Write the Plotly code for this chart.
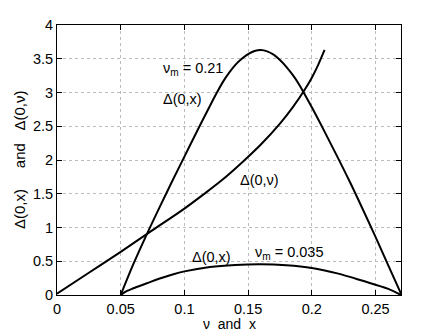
import plotly.graph_objects as go

# Delta(0, nu) curve
nu = [0.0, 0.025, 0.05, 0.075, 0.1, 0.115, 0.13, 0.145, 0.16, 0.175, 0.185, 0.195, 0.2, 0.205, 0.21]
delta_nu = [0.02, 0.33, 0.64, 0.96, 1.28, 1.49, 1.71, 1.96, 2.23, 2.54, 2.78, 3.06, 3.22, 3.41, 3.63]

# Delta(0, x) for nu_m = 0.21
x_hi = [0.05, 0.06, 0.07, 0.08, 0.09, 0.1, 0.11, 0.12, 0.125, 0.13, 0.135, 0.14, 0.145, 0.15, 0.155,
        0.16, 0.165, 0.17, 0.175, 0.18, 0.185, 0.19, 0.2, 0.21, 0.22, 0.23, 0.24, 0.25, 0.26, 0.27]
delta_x_hi = [0.0, 0.46, 0.88, 1.28, 1.67, 2.05, 2.43, 2.8, 2.98, 3.15, 3.29, 3.41, 3.5, 3.57, 3.615,
              3.63, 3.61, 3.56, 3.48, 3.38, 3.26, 3.12, 2.78, 2.42, 2.05, 1.67, 1.27, 0.86, 0.44, 0.02]

# Delta(0, x) for nu_m = 0.035
x_lo = [0.05, 0.055, 0.06, 0.07, 0.08, 0.09, 0.1, 0.12, 0.14, 0.16, 0.18, 0.2, 0.22, 0.24, 0.26, 0.27]
delta_x_lo = [0.0, 0.06, 0.1, 0.17, 0.24, 0.3, 0.35, 0.415, 0.445, 0.455, 0.44, 0.4, 0.32, 0.21, 0.09, 0.0]

x_ticks = [0, 0.05, 0.1, 0.15, 0.2, 0.25]
y_ticks = [0, 0.5, 1, 1.5, 2, 2.5, 3, 3.5, 4]

FONT = "Liberation Sans, Arial, Helvetica, sans-serif"

fig = go.Figure()
for xs, ys in [(nu, delta_nu), (x_hi, delta_x_hi), (x_lo, delta_x_lo)]:
    fig.add_trace(go.Scatter(
        x=xs, y=ys, mode="lines", line=dict(color="black", width=2, shape="spline", smoothing=1.0),
        showlegend=False, hoverinfo="skip",
    ))

labels = [
    (0.082, 3.35, "ν<sub>m</sub> = 0.21"),
    (0.082, 2.91, "Δ(0,x)"),
    (0.142, 1.71, "Δ(0,ν)"),
    (0.104, 0.56, "Δ(0,x)"),
    (0.154, 0.62, "ν<sub>m</sub> = 0.035"),
]
for lx, ly, txt in labels:
    fig.add_annotation(x=lx, y=ly, text=txt, showarrow=False, xanchor="left", yanchor="middle",
                       font=dict(size=14.5, color="black", family=FONT))

# axis titles
fig.add_annotation(x=0.5, y=0, xref="paper", yref="paper", yshift=-29, xanchor="center",
                   yanchor="middle", showarrow=False, text="ν\u00a0\u00a0and\u00a0\u00a0x",
                   font=dict(size=14, family=FONT, color="black"))
fig.add_annotation(x=0, y=0.5, xref="paper", yref="paper", xshift=-38, xanchor="center",
                   yanchor="middle", showarrow=False, textangle=-90,
                   text="Δ(0,x)\u00a0\u00a0\u00a0\u00a0\u00a0and\u00a0\u00a0\u00a0Δ(0,ν)",
                   font=dict(size=15, family=FONT, color="black"))

fig.update_layout(
    width=443, height=333,
    margin=dict(l=57, r=42, t=25, b=38),
    paper_bgcolor="white", plot_bgcolor="white",
    font=dict(family=FONT, size=14.5, color="black"),
)
fig.update_xaxes(
    range=[0, 0.27], tickvals=x_ticks, ticktext=["0", "0.05", "0.1", "0.15", "0.2", "0.25"],
    showgrid=True, gridcolor="#bbbbbb", griddash="dot", gridwidth=1, zeroline=False,
    showline=True, linecolor="black", linewidth=1, mirror="allticks", ticks="inside", ticklen=5,
    tickcolor="black", ticklabelstandoff=1,
)
fig.update_yaxes(
    range=[0, 4], tickvals=y_ticks, ticktext=["0", "0.5", "1", "1.5", "2", "2.5", "3", "3.5", "4"],
    showgrid=True, gridcolor="#bbbbbb", griddash="dot", gridwidth=1, zeroline=False,
    showline=True, linecolor="black", linewidth=1, mirror="allticks", ticks="inside", ticklen=5,
    tickcolor="black",
)

# page body has a default margin; remove it so the figure sits at the window origin
fig.write_html("out.html", config={"displayModeBar": False},
               post_script="document.body.style.margin='0';")
